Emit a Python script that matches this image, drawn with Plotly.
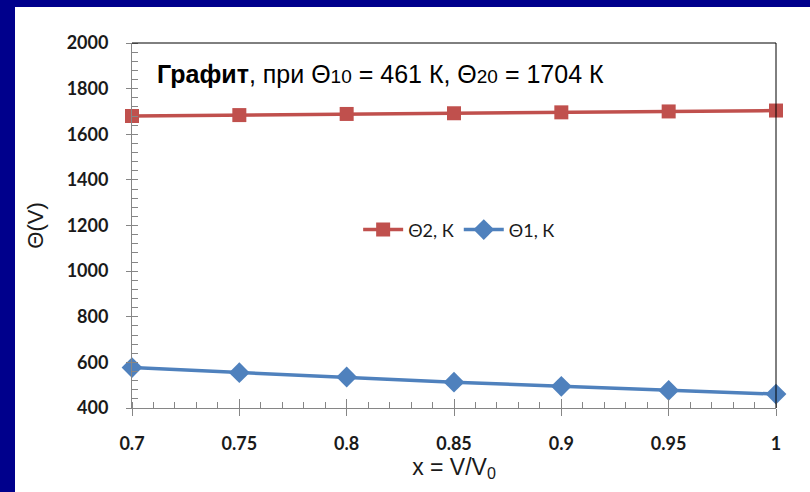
import plotly.graph_objects as go

x_vals = [0.7, 0.75, 0.8, 0.85, 0.9, 0.95, 1.0]
theta2 = [1680, 1684, 1689, 1692, 1696, 1700, 1704]
theta1 = [577, 555, 536, 513, 495, 477, 461]
x_ticks = [0.7, 0.75, 0.8, 0.85, 0.9, 0.95, 1]
x_ticktext = ["0.7", "0.75", "0.8", "0.85", "0.9", "0.95", "1"]
y_ticks = [400, 600, 800, 1000, 1200, 1400, 1600, 1800, 2000]

RED = "#C0504D"
BLUE = "#4F81BD"
AXIS_GRAY = "#868686"
NAVY = "#00008C"

fig = go.Figure()
fig.add_trace(go.Scatter(
    x=x_vals, y=theta2, name="Θ2, К", mode="lines+markers",
    line=dict(color=RED, width=3.5),
    marker=dict(symbol="square", size=14, color=RED),
    cliponaxis=False,
))
fig.add_trace(go.Scatter(
    x=x_vals, y=theta1, name="Θ1, К", mode="lines+markers",
    line=dict(color=BLUE, width=3.5),
    marker=dict(symbol="diamond", size=16, color=BLUE),
    cliponaxis=False,
))
# invisible trace for overlay axes
fig.add_trace(go.Scatter(x=[x_vals[0]], y=[y_ticks[0]], xaxis="x2", yaxis="y2",
                         mode="markers", marker=dict(opacity=0), showlegend=False,
                         hoverinfo="skip"))

tick_font = dict(family="Lato", size=18, color="#1a1a1a", weight="bold")

title_text = ("<b>Графит</b>, при Θ<span style='font-size:19px'>10</span> = 461 К, "
              "Θ<span style='font-size:19px'>20</span> = 1704 К")

fig.update_layout(
    width=810, height=492,
    margin=dict(l=132, r=34, t=43, b=84),
    paper_bgcolor="white",
    plot_bgcolor="white",
    showlegend=True,
    legend=dict(
        x=0.508, y=0.488, xanchor="center", yanchor="middle",
        orientation="h", bgcolor="rgba(0,0,0,0)",
        font=dict(family="Lato", size=18, color="#1a1a1a"),
        itemwidth=40, tracegroupgap=0,
    ),
    xaxis=dict(
        range=[0.7, 1.0], tickvals=x_ticks, ticktext=x_ticktext,
        showgrid=False, zeroline=False,
        showline=True, linecolor=AXIS_GRAY, linewidth=1,
        ticks="outside", ticklen=7, tickcolor=AXIS_GRAY,
        ticklabelstandoff=12,
        minor=dict(ticks="inside", dtick=0.01, ticklen=6, tickcolor=AXIS_GRAY, showgrid=False),
        tickfont=tick_font,
        title=dict(text="x = V/V<sub>0</sub>", font=dict(family="Liberation Sans", size=23, color="#1a1a1a"), standoff=4),
    ),
    yaxis=dict(
        range=[400, 2000], tickvals=y_ticks,
        showgrid=False, zeroline=False,
        showline=True, linecolor=AXIS_GRAY, linewidth=1,
        ticks="outside", ticklen=5, tickcolor=AXIS_GRAY,
        ticklabelstandoff=14,
        minor=dict(ticks="inside", dtick=40, ticklen=6, tickcolor=AXIS_GRAY, showgrid=False),
        tickfont=tick_font,
        title=dict(text="Θ(V)", font=dict(family="Liberation Sans", size=22, color="#1a1a1a"), standoff=16),
    ),
    xaxis2=dict(
        overlaying="x", range=[0.7, 1.0], tickvals=x_ticks, showticklabels=False,
        showgrid=False, zeroline=False, showline=False,
        ticks="inside", ticklen=9, tickcolor=AXIS_GRAY, side="bottom",
    ),
    yaxis2=dict(
        overlaying="y", range=[400, 2000], tickvals=y_ticks, showticklabels=False,
        showgrid=False, zeroline=False, showline=False,
        ticks="inside", ticklen=6, tickcolor=AXIS_GRAY, side="left",
    ),
    shapes=[
        # navy frame on top and left
        dict(type="rect", xref="paper", yref="paper", x0=-132/644, x1=(15-132)/644,
             y0=-84/365, y1=(408+0)/365 + 7/365 + 43/365, fillcolor=NAVY, line=dict(width=0), layer="below"),
        dict(type="rect", xref="paper", yref="paper", x0=-132/644, x1=(810-132)/644,
             y0=(408-7)/365, y1=408/365 + 1, fillcolor=NAVY, line=dict(width=0), layer="below"),
        # black top and right border of plot area
        dict(type="line", xref="paper", yref="paper", x0=0, x1=1, y0=1, y1=1,
             line=dict(color="black", width=1)),
        dict(type="line", xref="paper", yref="paper", x0=1, x1=1, y0=0, y1=1,
             line=dict(color="black", width=1)),
    ],
    annotations=[
        dict(text=title_text,
             xref="paper", yref="paper", x=0.036, y=0.915, xanchor="left", yanchor="middle",
             showarrow=False, font=dict(family="Liberation Sans", size=25, color="black")),
    ],
)

fig.write_html("out.html")
